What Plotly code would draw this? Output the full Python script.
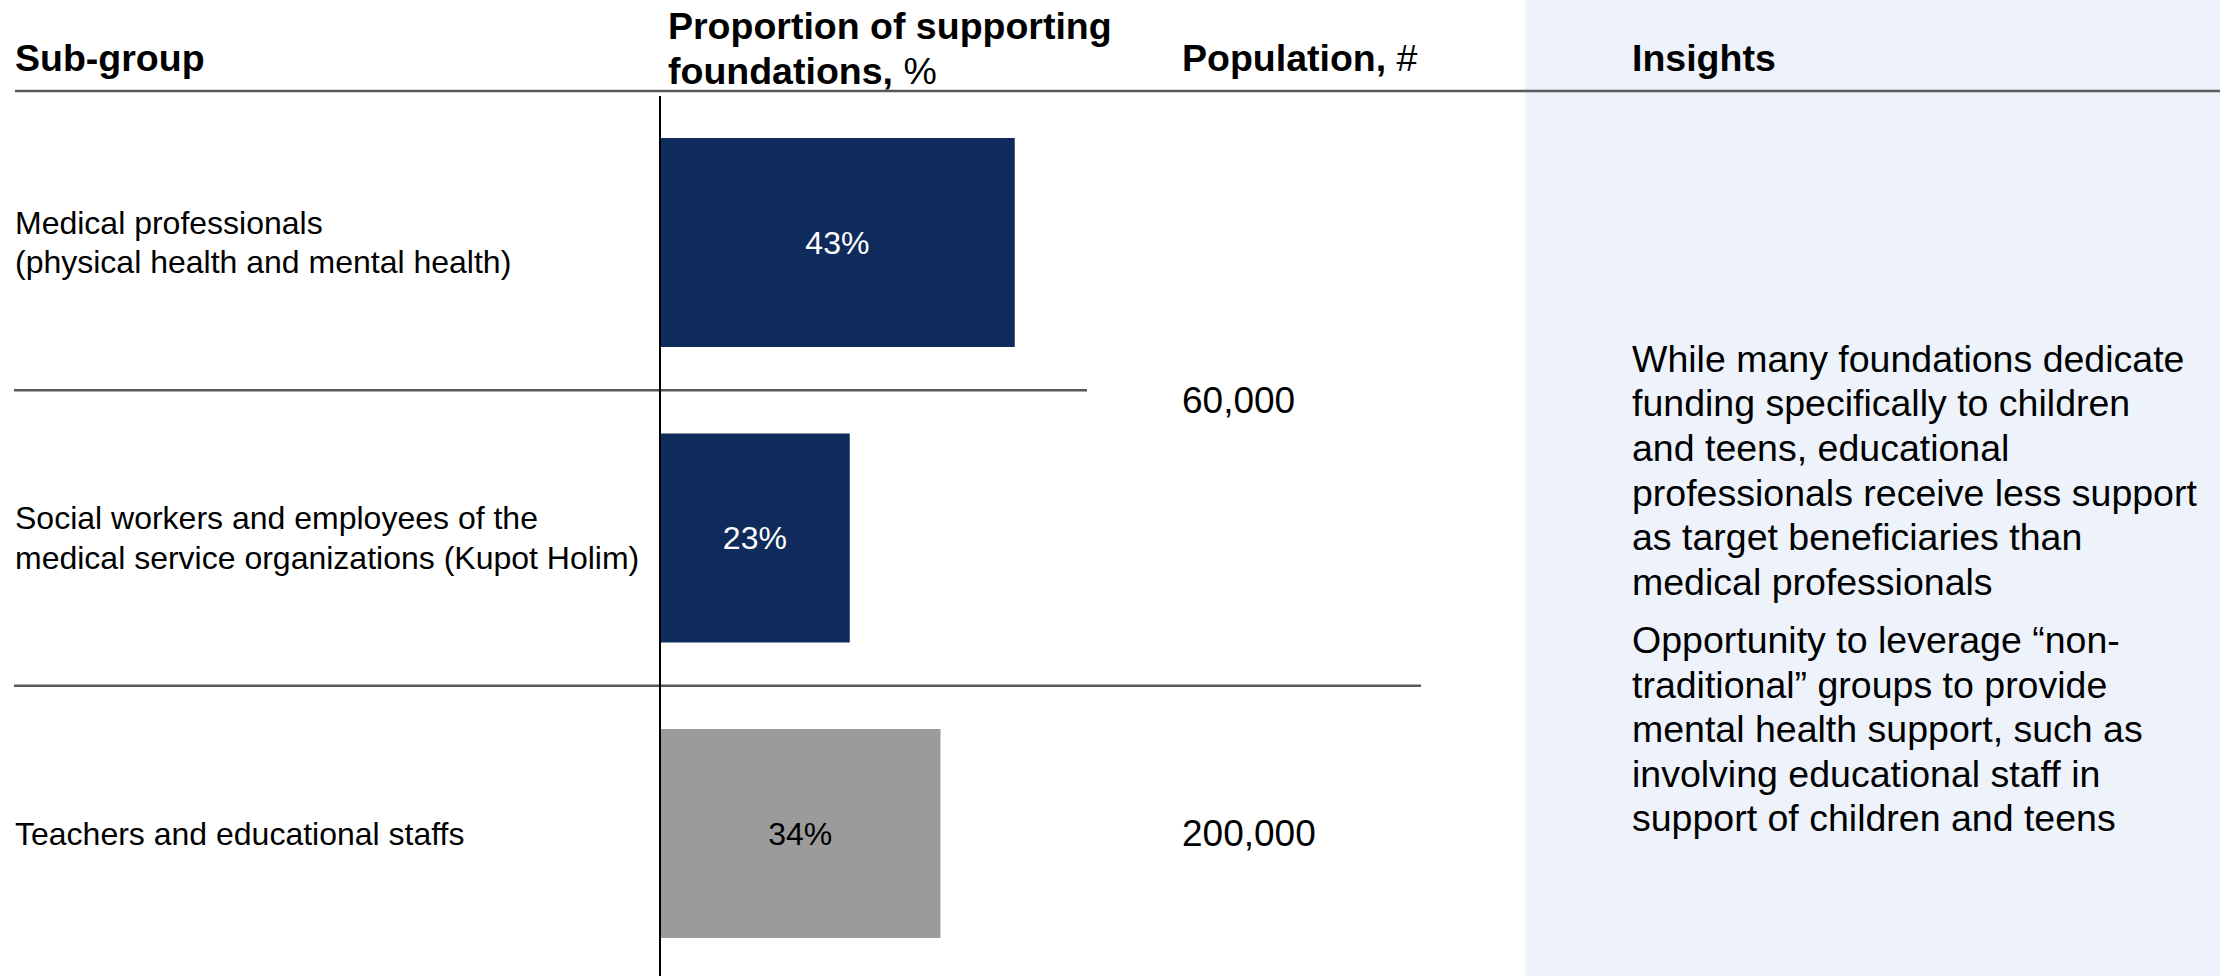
import plotly.graph_objects as go

# ---- data -------------------------------------------------------------
group_ids = ["Medical professionals", "Social workers", "Teachers"]
group_lines = [
    ["Medical professionals", "(physical health and mental health)"],
    ["Social workers and employees of the", "medical service organizations (Kupot Holim)"],
    ["Teachers and educational staffs"],
]
shares = [43, 23, 34]  # proportion of supporting foundations, %
bar_colors = ["#0F2B5B", "#0F2B5B", "#9B9B9B"]
label_colors = ["#FFFFFF", "#FFFFFF", "#000000"]

populations = [60000, 200000]
population_rows = [(0, 1), (2, 2)]  # rows each population figure spans

insights = [
    ["While many foundations dedicate",
     "funding specifically to children",
     "and teens, educational",
     "professionals receive less support",
     "as target beneficiaries than",
     "medical professionals"],
    ["Opportunity to leverage \u201cnon-",
     "traditional\u201d groups to provide",
     "mental health support, such as",
     "involving educational staff in",
     "support of children and teens"],
]

# ---- layout constants (pixels) ---------------------------------------
W, H = 2220, 976
FONT = "Liberation Sans, Arial, sans-serif"
ZERO_PX = 660          # where the bar baseline sits
PX_PER_PCT = 8.25
ROW0_PX, ROW_STEP = 242.5, 295.5
BAR_H = 209

HEAD_FS, LABEL_FS, VAL_FS, POP_FS, INS_FS = 37.5, 32, 32, 37, 37.5

COL_LABEL_X, COL_BAR_X, COL_POP_X, COL_INS_X = 13, 666, 1180, 1630


def px(x):
    return x / W


def py(y):
    return 1 - y / H


def mid_from_baseline(baseline, fs):
    return baseline - 0.35 * fs


annotations = []


def add_text(text, x_px, baseline_px, fs, color="#000000"):
    annotations.append(dict(
        text=text, x=px(x_px), y=py(mid_from_baseline(baseline_px, fs)),
        xref="paper", yref="paper", xanchor="left", yanchor="middle",
        align="left", showarrow=False,
        font=dict(family=FONT, size=fs, color=color)))


# ---- bars ---------------------------------------------------------------
fig = go.Figure(go.Bar(
    x=shares, y=group_ids, orientation="h",
    width=BAR_H / ROW_STEP,
    marker=dict(color=bar_colors, line=dict(width=0)),
    text=[f"{v}%" for v in shares],
    textposition="inside", insidetextanchor="middle", textangle=0,
    textfont=dict(family=FONT, size=VAL_FS, color=label_colors),
    hoverinfo="skip",
))

# ---- column headers ----------------------------------------------------
add_text("<b>Sub-group</b>", COL_LABEL_X, 71, HEAD_FS)
add_text("<b>Proportion of supporting</b>", COL_BAR_X, 39, HEAD_FS)
add_text("<b>foundations,</b> %", COL_BAR_X, 84, HEAD_FS)
add_text("<b>Population,</b> #", COL_POP_X, 71, HEAD_FS)
add_text("<b>Insights</b>", COL_INS_X, 71, HEAD_FS)

# ---- row labels (centred on each bar) ------------------------------------
LABEL_LH = 39.5
for i, lines in enumerate(group_lines):
    n = len(lines)
    for j, line in enumerate(lines):
        annotations.append(dict(
            text=line, x=px(COL_LABEL_X), y=i, xref="paper", yref="y",
            xanchor="left", yanchor="middle", align="left", showarrow=False,
            yshift=-(j - (n - 1) / 2) * LABEL_LH,
            font=dict(family=FONT, size=LABEL_FS, color="#000000")))

# ---- population column ---------------------------------------------------
for val, (r0, r1) in zip(populations, population_rows):
    annotations.append(dict(
        text=f"{val:,}", x=px(COL_POP_X), y=(r0 + r1) / 2, xref="paper", yref="y",
        xanchor="left", yanchor="middle", showarrow=False,
        yshift=-10 if r1 > r0 else 0,
        font=dict(family=FONT, size=POP_FS, color="#000000")))

# ---- insights panel text -------------------------------------------------
INS_LH = 44.6
INS_PARA_GAP = 13.5
baseline = 372
for para in insights:
    for line in para:
        add_text(line, COL_INS_X, baseline, INS_FS)
        baseline += INS_LH
    baseline += INS_PARA_GAP

# ---- rules and panel -----------------------------------------------------
shapes = [
    dict(type="rect", xref="paper", yref="paper", x0=px(1525), x1=1, y0=0, y1=1,
         fillcolor="#EDF2FB", line=dict(width=0), layer="below"),
    dict(type="line", xref="paper", yref="paper", x0=px(15), x1=1,
         y0=py(91), y1=py(91), line=dict(color="#595959", width=2.5)),
]
sep_ends = [1087, 1421]
for k, x_end in enumerate(sep_ends):
    shapes.append(dict(type="line", xref="paper", yref="y", x0=px(14), x1=px(x_end),
                       y0=k + 0.5, y1=k + 0.5,
                       line=dict(color="#595959", width=2.5)))
shapes.append(dict(type="line", xref="x", yref="paper", x0=0, x1=0,
                   y0=0, y1=py(96), line=dict(color="#000000", width=2)))

fig.update_layout(
    width=W, height=H,
    margin=dict(l=0, r=0, t=0, b=0, pad=0),
    paper_bgcolor="#FFFFFF", plot_bgcolor="rgba(0,0,0,0)",
    showlegend=False,
    xaxis=dict(range=[-ZERO_PX / PX_PER_PCT, (W - ZERO_PX) / PX_PER_PCT],
               visible=False, fixedrange=True),
    yaxis=dict(type="category",
               range=[2 + (H - (ROW0_PX + 2 * ROW_STEP)) / ROW_STEP, -ROW0_PX / ROW_STEP],
               visible=False, fixedrange=True),
    shapes=shapes,
    annotations=annotations,
    font=dict(family=FONT),
)

fig.write_html("out.html", config={"displayModeBar": False})
